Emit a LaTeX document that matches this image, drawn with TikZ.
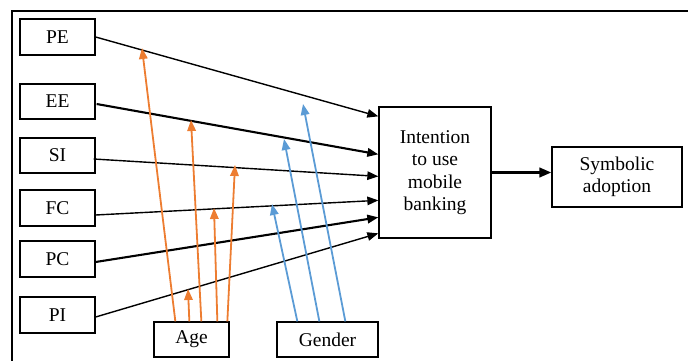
\documentclass[tikz,border=0pt]{standalone}
\usepackage{fontspec}
\setmainfont{Liberation Serif}
\usetikzlibrary{arrows.meta,calc}
\definecolor{morange}{HTML}{ED7D31}
\definecolor{mblue}{HTML}{5B9BD5}
\tikzset{
  box/.style={draw=black,line width=1.3pt,inner sep=0pt,align=center,
    font=\fontsize{19.5}{22.5}\selectfont},
  tip/.style={-{Triangle[length=11pt,width=8.5pt]}},
  thinarr/.style={tip,line width=1.4pt},
  thickarr/.style={tip,line width=2.1pt},
  orarr/.style={-{Triangle[length=11pt,width=8.5pt]},draw=morange,line width=1.8pt},
  blarr/.style={-{Triangle[length=11pt,width=8.5pt]},draw=mblue,line width=1.8pt},
}
\begin{document}
\begin{tikzpicture}[x=1pt,y=-1pt]
\useasboundingbox (0,0) rectangle (688,361);
\draw[line width=1.1pt] (12,361) -- (12,11) -- (688,11);

\node[box,minimum width=75pt,minimum height=36pt] (PE) at (57.5,37) {PE};
\node[box,minimum width=75pt,minimum height=35pt] (EE) at (57.5,101.5) {EE};
\node[box,minimum width=75pt,minimum height=35pt] (SI) at (57.5,155.5) {SI};
\node[box,minimum width=75pt,minimum height=36pt] (FC) at (57.5,208) {FC};
\node[box,minimum width=75pt,minimum height=36pt] (PC) at (57.5,259) {PC};
\node[box,minimum width=75pt,minimum height=36pt] (PI) at (57.5,315) {PI};
\node[box,minimum width=75pt,minimum height=35pt] (age) at (191.5,339.5) {Age};
\node[box,minimum width=101pt,minimum height=35pt] (gen) at (327.5,339.5) {Gender};
\node[box,minimum width=112pt,minimum height=131pt] (int) at (435,172.5) {Intention\\to use\\mobile\\banking};
\node[box,minimum width=130pt,minimum height=60pt] (sym) at (617,177) {Symbolic\\adoption};

% moderator tips
\coordinate (o1) at (142,48);
\coordinate (o2) at (188,289);
\coordinate (o3) at (191,120);
\coordinate (o4) at (214,208);
\coordinate (o5) at (235,165);
\coordinate (b1) at (272,204);
\coordinate (b2) at (284,139);
\coordinate (b3) at (303,104);

% main paths
\draw[thinarr] (PE.east) -- ($(int.north west)+(0,10)$);
\draw[thickarr] ($(EE.east)+(1,2.5)$) -- ($(int.north west)+(0,48)$);
\draw[thinarr] ($(SI.east)+(-2,3.5)$) -- ($(int.north west)+(0,70)$);
\draw[thinarr] ($(FC.east)+(0,7)$) -- ($(int.north west)+(0,94)$);
\draw[thickarr] ($(PC.east)+(0,3)$) -- ($(int.north west)+(0,111)$);
\draw[thinarr] ($(PI.east)+(0,2)$) -- ($(int.north west)+(0,127)$);
\draw[line width=2.6pt,-{Triangle[length=12pt,width=9.5pt]}] (int.east) -- (int.east -| sym.west);

% age arrows
\draw[orarr] ($(age.north west)+(22,0)$) -- (o1);
\draw[orarr] ($(age.north west)+(36,0)$) -- (o2);
\draw[orarr] ($(age.north west)+(48,0)$) -- (o3);
\draw[orarr] ($(age.north west)+(64,0)$) -- (o4);
\draw[orarr] ($(age.north west)+(74,0)$) -- (o5);

% gender arrows
\draw[blarr] ($(gen.north west)+(21,0)$) -- (b1);
\draw[blarr] ($(gen.north west)+(43,0)$) -- (b2);
\draw[blarr] ($(gen.north west)+(69,0)$) -- (b3);
\end{tikzpicture}
\end{document}
